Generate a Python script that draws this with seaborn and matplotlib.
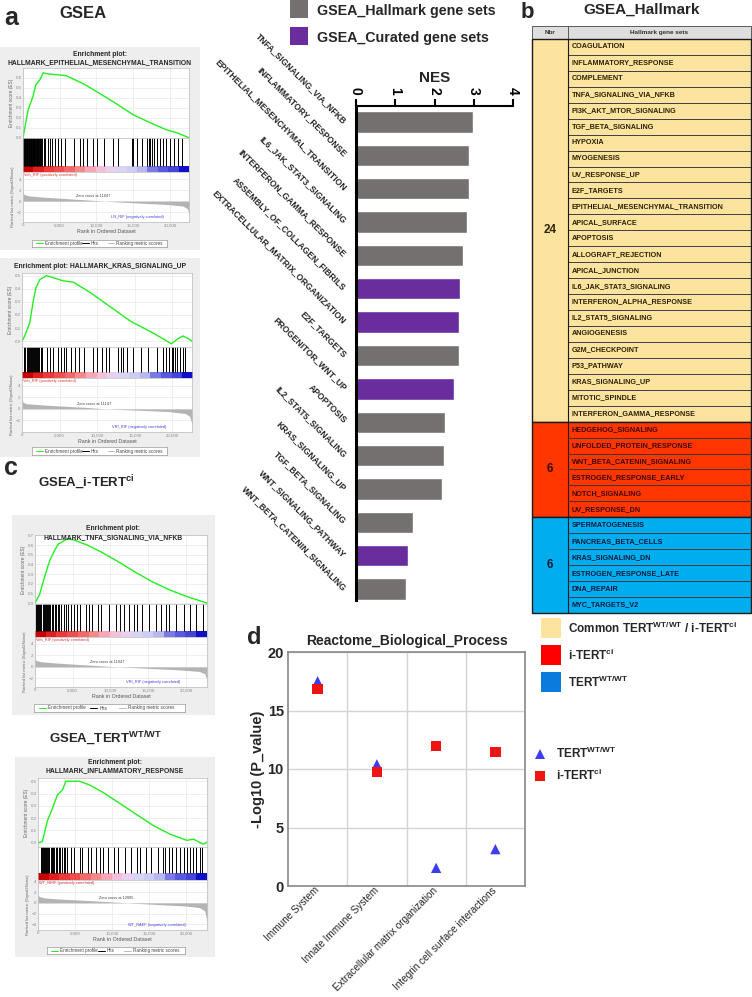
import numpy as np
import pandas as pd
import matplotlib
matplotlib.use("Agg")
import matplotlib.pyplot as plt
import seaborn as sns
from matplotlib.patches import Rectangle
from matplotlib.colors import ListedColormap

# ---------------- data ----------------
# panel a/c : GSEA enrichment plots
es1_rank = [0, 700, 1350, 1750, 2300, 2750, 3200, 5900, 8200, 10500, 12700, 15000, 17300, 19500, 20900, 22600]
es1_val = [0, 0.28, 0.41, 0.53, 0.58, 0.65, 0.64, 0.62, 0.54, 0.44, 0.34, 0.23, 0.15, 0.08, 0.05, 0.0]
hits1 = [50, 150, 250, 330, 420, 520, 600, 700, 780, 850, 950, 1050, 1150, 1250, 1320, 1400, 1480, 1560,
         1650, 1750, 1850, 1950, 2050, 2150, 2250, 2350, 2500, 2650, 2800, 2950, 3400, 3650, 4000, 4300,
         4800, 5200, 5700, 6900, 7800, 8200, 8700, 9500, 10100, 11000, 12200, 13000, 14800, 15000, 15500,
         16200, 16900, 17100, 17300, 17600, 17800, 18200, 18600, 19100, 19500, 20000, 20500, 21100, 21600]
m1_rank = [0, 150, 800, 2500, 6000, 11047, 15000, 19500, 21800, 22400, 22600]
m1_val = [1.6, 1.2, 0.95, 0.75, 0.45, 0, -0.3, -0.6, -0.9, -1.4, -2.4]

es2_rank = [0, 360, 1030, 1480, 1840, 2370, 3270, 5500, 6850, 9100, 11800, 14500, 17200, 19000, 19850,
            20750, 21400, 22100, 22600]
es2_val = [0, 0.04, 0.14, 0.30, 0.405, 0.47, 0.50, 0.46, 0.45, 0.37, 0.26, 0.15, 0.07, 0.01, -0.02,
           0.02, 0.04, 0.02, 0.0]
hits2 = [300, 450, 600, 750, 900, 1000, 1150, 1300, 1400, 1550, 1700, 1850, 2000, 2150, 2300, 2500, 2700,
         3300, 3700, 4100, 4800, 5200, 5600, 5900, 6500, 7000, 7600, 8300, 9500, 10000, 10700, 11200, 11600,
         12700, 13100, 13400, 14000, 14700, 15800, 16800, 17900, 18800, 19200, 19600, 19900, 20100, 20300,
         20600, 21000, 21400, 21700]
m2_rank = [0, 200, 600, 3700, 8000, 11147, 15000, 19400, 21700, 22300, 22600]
m2_val = [1.5, 1.1, 0.9, 0.6, 0.3, 0, -0.2, -0.45, -0.8, -1.3, -2.6]

es3_rank = [0, 590, 1270, 1950, 2630, 3080, 3540, 4220, 5120, 6940, 8750, 11000, 13290, 15560, 17820,
            20090, 21450, 22800]
es3_val = [0, 0.085, 0.27, 0.44, 0.55, 0.61, 0.63, 0.665, 0.655, 0.60, 0.53, 0.43, 0.32, 0.22, 0.137,
           0.068, 0.034, 0.0]
hits3 = [100, 250, 400, 550, 700, 850, 1000, 1150, 1300, 1450, 1600, 1750, 1900, 2050, 2200, 2400, 2600,
         2800, 3000, 3200, 3500, 3800, 4100, 4400, 4800, 5200, 5600, 6000, 6700, 7200, 7600, 8300, 8800,
         9800, 10700, 11300, 11800, 12500, 13100, 13500, 14200, 15100, 16000, 16700, 17400, 17800, 18700,
         19800, 20500, 21400, 22300]
m3_rank = [0, 150, 800, 2500, 6000, 11047, 15000, 19500, 21800, 22500, 22800]
m3_val = [1.5, 1.1, 0.9, 0.7, 0.4, 0, -0.25, -0.55, -0.8, -1.2, -2.3]

es4_rank = [0, 590, 1270, 1950, 2630, 3310, 3760, 5120, 5580, 6940, 8750, 11020, 13290, 15550, 17820,
            20090, 21000, 21900, 22360, 22800]
es4_val = [0, 0.01, 0.18, 0.28, 0.39, 0.43, 0.50, 0.50, 0.50, 0.47, 0.41, 0.32, 0.23, 0.14, 0.07,
           0.02, 0.03, 0.0, -0.01, 0.005]
hits4 = [350, 500, 650, 800, 950, 1100, 1250, 1400, 1550, 1700, 1850, 2000, 2200, 2400, 2600, 2800, 3000,
         3200, 3450, 3700, 3950, 4400, 4900, 5600, 6000, 6700, 7200, 7800, 8300, 8800, 9500, 10300, 10800,
         11800, 12500, 13300, 13700, 14600, 15300, 16200, 16800, 17200, 17700, 18100, 18600, 19200, 19700,
         20100, 20500, 20900, 21300, 21800, 22100]
m4_rank = [0, 150, 800, 2500, 6000, 12085, 16000, 20000, 21800, 22500, 22800]
m4_val = [1.6, 1.2, 0.95, 0.75, 0.5, 0, -0.3, -0.6, -0.9, -1.5, -3.6]

heat_colors = ['#c80000', '#e02020', '#ea3a3a', '#ee5050', '#f06a6a', '#f28a8a', '#f4a8b8', '#f4c0d8',
               '#e8d0ee', '#d8d4f4', '#ccccf4', '#b8b8f0', '#7a7ae6', '#5a5ade', '#4646d6', '#1010c8']

# NES bar chart
nes_sets = ['TNFA_SIGNALING_VIA_NFKB', 'INFLAMMATORY_RESPONSE', 'EPITHELIAL_MESENCHYMAL_TRANSITION',
            'IL6_JAK_STAT3_SIGNALING', 'INTERFERON_GAMMA_RESPONSE', 'ASSEMBLY_OF_COLLAGEN_FIBRILS',
            'EXTRACELLULAR_MATRIX_ORGANIZATION', 'E2F_TARGETS', 'PROGENITOR_WNT_UP', 'APOPTOSIS',
            'IL2_STAT5_SIGNALING', 'KRAS_SIGNALING_UP', 'TGF_BETA_SIGNALING', 'WNT_SIGNALING_PATHWAY',
            'WNT_BETA_CATENIN_SIGNALING']
nes_values = [2.99, 2.89, 2.88, 2.82, 2.73, 2.65, 2.62, 2.62, 2.50, 2.28, 2.24, 2.20, 1.46, 1.32, 1.28]
nes_source = ['GSEA_Hallmark gene sets'] * 5 + ['GSEA_Curated gene sets'] * 2 + ['GSEA_Hallmark gene sets'] \
    + ['GSEA_Curated gene sets'] + ['GSEA_Hallmark gene sets'] * 4 + ['GSEA_Curated gene sets'] \
    + ['GSEA_Hallmark gene sets']
nes_palette = {'GSEA_Hallmark gene sets': '#747070', 'GSEA_Curated gene sets': '#6a2d9e'}

# panel b table
common_sets = ['COAGULATION', 'INFLAMMATORY_RESPONSE', 'COMPLEMENT', 'TNFA_SIGNALING_VIA_NFKB',
               'PI3K_AKT_MTOR_SIGNALING', 'TGF_BETA_SIGNALING', 'HYPOXIA', 'MYOGENESIS', 'UV_RESPONSE_UP',
               'E2F_TARGETS', 'EPITHELIAL_MESENCHYMAL_TRANSITION', 'APICAL_SURFACE', 'APOPTOSIS',
               'ALLOGRAFT_REJECTION', 'APICAL_JUNCTION', 'IL6_JAK_STAT3_SIGNALING', 'INTERFERON_ALPHA_RESPONSE',
               'IL2_STAT5_SIGNALING', 'ANGIOGENESIS', 'G2M_CHECKPOINT', 'P53_PATHWAY', 'KRAS_SIGNALING_UP',
               'MITOTIC_SPINDLE', 'INTERFERON_GAMMA_RESPONSE']
ici_sets = ['HEDGEHOG_SIGNALING', 'UNFOLDED_PROTEIN_RESPONSE', 'WNT_BETA_CATENIN_SIGNALING',
            'ESTROGEN_RESPONSE_EARLY', 'NOTCH_SIGNALING', 'UV_RESPONSE_DN']
wt_sets = ['SPERMATOGENESIS', 'PANCREAS_BETA_CELLS', 'KRAS_SIGNALING_DN', 'ESTROGEN_RESPONSE_LATE',
           'DNA_REPAIR', 'MYC_TARGETS_V2']
group_colors = ['#fde3a0', '#ff3600', '#00aeef']
group_text = ['#2b2200', '#3a0a00', '#0a1a3a']

# panel d
reactome_terms = ['Immune System', 'Innate Immune System', 'Extracellular matrix organization',
                  'Integrin cell surface interactions']
wt_logp = [17.5, 10.4, 1.55, 3.15]
ici_logp = [16.85, 9.75, 11.95, 11.45]
WT = r'TERT$^{\mathbf{WT/WT}}$'
ICI = r'i-TERT$^{\mathbf{ci}}$'

# ---------------- figure ----------------
sns.set_theme(style='white')
plt.rcParams['font.family'] = ['Liberation Sans', 'DejaVu Sans']
plt.rcParams['mathtext.fontset'] = 'custom'
plt.rcParams['mathtext.rm'] = 'Liberation Sans'
plt.rcParams['mathtext.bf'] = 'Liberation Sans:bold'

W, H = 752, 997
fig = plt.figure(figsize=(W / 100, H / 100), dpi=100)


def px_axes(l, t, r, b):
    return fig.add_axes([l / W, 1 - b / H, (r - l) / W, (b - t) / H])


def px_text(x, y, s, **kw):
    fig.text(x / W, 1 - y / H, s, **kw)


def px_rect(l, t, r, b, **kw):
    fig.add_artist(Rectangle((l / W, 1 - b / H), (r - l) / W, (b - t) / H,
                             transform=fig.transFigure, **kw))


def small_axes_style(ax):
    ax.set_facecolor('white')
    for s in ax.spines.values():
        s.set_color('#bbbbbb')
        s.set_linewidth(0.5)
    ax.tick_params(length=0, labelsize=3.2, labelcolor='#888888', pad=1)
    ax.grid(True, color='#e4e4e4', lw=0.4)


def draw_gsea(lay, title, es_rank, es_val, hits, m_rank, m_val, texts):
    l, r = lay['x']
    t_es, b_es, b_hit, b_bar, b_m = lay['y']
    n_rank = lay['n']
    px_rect(*lay['bg'], fc='#eeeeee', ec='none', zorder=-1)
    for line, ty in zip(title, lay['title_y']):
        px_text((lay['bg'][0] + lay['bg'][2]) / 2, ty, line, ha='center', va='center',
                fontsize=4.9, fontweight='bold')

    ax = px_axes(l, t_es, r, b_es)
    sns.lineplot(x=es_rank, y=es_val, ax=ax, color='#22ee22', lw=1.0)
    ax.set_xlim(0, n_rank)
    ax.set_ylim(*lay['es_lim'])
    ax.set_yticks(lay['es_ticks'])
    ax.set_yticklabels([f'{v:.1f}' for v in lay['es_ticks']])
    ax.set_xticks([0, 5000, 10000, 15000, 20000])
    ax.set_xticklabels([])
    small_axes_style(ax)
    ax.set_ylabel('Enrichment score (ES)', fontsize=3.4, color='#666666', labelpad=1)
    ax.set_xlabel('')

    hx = px_axes(l, b_es, r, b_bar)
    f = (b_bar - b_hit) / (b_bar - b_es)
    hx.vlines(hits, f, 1, color='black', lw=0.7)
    hx.imshow([np.arange(len(heat_colors))], cmap=ListedColormap(heat_colors), aspect='auto',
              extent=(0, n_rank, 0, f))
    hx.set_xlim(0, n_rank)
    hx.set_ylim(0, 1)
    hx.set_xticks([])
    hx.set_yticks([])
    for s in hx.spines.values():
        s.set_color('#bbbbbb')
        s.set_linewidth(0.5)

    mx = px_axes(l, b_bar, r, b_m)
    mx.fill_between(m_rank, m_val, 0, color='#b4b4b4', lw=0)
    mx.set_xlim(0, n_rank)
    mx.set_ylim(*lay['m_lim'])
    mx.set_yticks(lay['m_ticks'])
    mx.set_xticks([0, 5000, 10000, 15000, 20000])
    mx.set_xticklabels(['0', '5,000', '10,000', '15,000', '20,000'])
    small_axes_style(mx)
    mx.set_xlabel('Rank in Ordered Dataset', fontsize=3.8, color='#555555', labelpad=1)
    mx.set_ylabel('Ranked list metric (Signal2Noise)', fontsize=3.0, color='#666666', labelpad=1)
    mx.text(0.005, 0.98, texts[0], transform=mx.transAxes, ha='left', va='top', fontsize=2.8, color='#e03030')
    mx.text(texts[3] - 1500, 0.5, texts[1], ha='center', va='bottom', fontsize=2.8, color='#444444')
    mx.text(0.53, 0.06, texts[2], transform=mx.transAxes, ha='left', va='bottom', fontsize=2.8, color='#4040e0')

    lx = px_axes(*lay['leg'])
    lx.set_xlim(0, 1)
    lx.set_ylim(0, 1)
    lx.set_xticks([])
    lx.set_yticks([])
    for s in lx.spines.values():
        s.set_color('#999999')
        s.set_linewidth(0.5)
    for x0, c, lab in [(0.03, '#22ee22', 'Enrichment profile'), (0.37, 'black', 'Hits'),
                       (0.56, '#bbbbbb', 'Ranking metric scores')]:
        lx.plot([x0, x0 + 0.05], [0.5, 0.5], color=c, lw=0.7)
        lx.text(x0 + 0.065, 0.5, lab, va='center', fontsize=3.3, color='#444444')


layouts = [
    dict(x=(23, 189), y=(68, 138, 166, 172, 222), bg=(0, 47, 200, 250), title_y=[54, 63], n=22600,
         es_lim=(-0.003, 0.697), es_ticks=[0, 0.1, 0.2, 0.3, 0.4, 0.5, 0.6], m_lim=(-3.8, 5.3),
         m_ticks=[4, 2, 0, -2], leg=(32, 240, 167, 247)),
    dict(x=(22, 192), y=(273, 347, 372, 378, 432), bg=(0, 258, 200, 457), title_y=[266], n=22600,
         es_lim=(-0.044, 0.52), es_ticks=[0, 0.1, 0.2, 0.3, 0.4, 0.5], m_lim=(-4.0, 5.35),
         m_ticks=[4, 2, 0, -2], leg=(32, 447, 167, 455)),
    dict(x=(35, 207), y=(535, 604, 631, 637, 687), bg=(12, 515, 215, 715), title_y=[528, 538], n=22800,
         es_lim=(-0.01, 0.705), es_ticks=[0, 0.1, 0.2, 0.3, 0.4, 0.5, 0.6, 0.7], m_lim=(-3.5, 5.2),
         m_ticks=[4, 2, 0, -2], leg=(34, 704, 185, 712)),
    dict(x=(38, 207), y=(778, 847, 873, 880, 930), bg=(15, 757, 215, 957), title_y=[762, 771], n=22800,
         es_lim=(-0.034, 0.526), es_ticks=[0, 0.1, 0.2, 0.3, 0.4, 0.5], m_lim=(-5.1, 4.3),
         m_ticks=[4, 2, 0, -2, -4], leg=(47, 947, 185, 954)),
]

draw_gsea(layouts[0], ['Enrichment plot:', 'HALLMARK_EPITHELIAL_MESENCHYMAL_TRANSITION'],
          es1_rank, es1_val, hits1, m1_rank, m1_val,
          ['Veh_RIF (positively correlated)', 'Zero cross at 11047', 'LN_RIF (negatively correlated)', 11047])
draw_gsea(layouts[1], ['Enrichment plot: HALLMARK_KRAS_SIGNALING_UP'],
          es2_rank, es2_val, hits2, m2_rank, m2_val,
          ['Veh_RIF (positively correlated)', 'Zero cross at 11147', 'VRI_RIF (negatively correlated)', 11147])
draw_gsea(layouts[2], ['Enrichment plot:', 'HALLMARK_TNFA_SIGNALING_VIA_NFKB'],
          es3_rank, es3_val, hits3, m3_rank, m3_val,
          ['Veh_RIF (positively correlated)', 'Zero cross at 11047', 'VRI_RIF (negatively correlated)', 11047])
draw_gsea(layouts[3], ['Enrichment plot:', 'HALLMARK_INFLAMMATORY_RESPONSE'],
          es4_rank, es4_val, hits4, m4_rank, m4_val,
          ['WT_NRIF (positively correlated)', 'Zero cross at 12085', 'WT_RAEF (negatively correlated)', 12085])

# panel letters / headings
px_text(4, 18, 'a', fontsize=18, fontweight='bold', va='center')
px_text(83, 14, 'GSEA', fontsize=12, fontweight='bold', va='center', ha='center')
px_text(4, 468, 'c', fontsize=18, fontweight='bold', va='center')
px_text(86, 483, 'GSEA_' + ICI, fontsize=9.5, fontweight='bold', va='center', ha='center')
px_text(106, 739, 'GSEA_' + WT, fontsize=9.5, fontweight='bold', va='center', ha='center')
px_text(521, 12, 'b', fontsize=16, fontweight='bold', va='center')
px_text(642, 10, 'GSEA_Hallmark', fontsize=11, fontweight='bold', va='center', ha='center')
px_text(247, 638, 'd', fontsize=17, fontweight='bold', va='center')

# ---------------- NES bar chart ----------------
df_nes = pd.DataFrame({'set': nes_sets, 'NES': nes_values, 'source': nes_source})
bx = px_axes(356, 106, 513, 600)
sns.barplot(data=df_nes, x='NES', y='set', hue='source', palette=nes_palette, dodge=False,
            width=0.64, saturation=1, legend=False, ax=bx)
bx.set_xlim(0, 4)
bx.set_ylim(14.33, -0.48)
bx.xaxis.tick_top()
bx.xaxis.set_label_position('top')
bx.set_xticks(range(5))
bx.set_xticklabels([str(v) for v in range(5)], rotation=-90, fontsize=10, fontweight='bold')
bx.set_xlabel('NES', fontsize=11, fontweight='bold', labelpad=4)
bx.set_ylabel('')
bx.set_yticks(range(len(nes_sets)))
bx.set_yticklabels(nes_sets, rotation=-45, ha='right', va='center', rotation_mode='anchor',
                   fontsize=6.2, fontweight='bold')
bx.tick_params(axis='x', direction='out', length=5, width=1.5, pad=3, top=True, colors='black')
bx.tick_params(axis='y', length=0, pad=8)
bx.spines['bottom'].set_visible(False)
bx.spines['right'].set_visible(False)
bx.spines['top'].set_linewidth(1.5)
bx.spines['left'].set_linewidth(2.2)
for s in ('top', 'left'):
    bx.spines[s].set_color('black')

for k, (src, col) in enumerate(nes_palette.items()):
    px_rect(290, 27 * k, 308, 27 * k + 18, fc=col, ec='none')
    px_text(317, 27 * k + 11, src, fontsize=10.3, fontweight='bold', va='center')

# ---------------- table (panel b) ----------------
groups = [common_sets, ici_sets, wt_sets]
hdr = 0.815
n_rows = sum(len(g) for g in groups)
div = 0.164
tx = px_axes(532, 26, 751, 613)
tx.set_xlim(0, 1)
tx.set_ylim(n_rows, -hdr)
tx.axis('off')
tx.add_patch(Rectangle((0, -hdr), 1, hdr, fc='#dedede', ec='#444444', lw=0.6, clip_on=False))
tx.plot([div, div], [-hdr, 0], color='#444444', lw=0.6, clip_on=False)
tx.text(div / 2, -hdr / 2, 'Nbr', ha='center', va='center', fontsize=4.6, fontweight='bold', color='#333333')
tx.text((div + 1) / 2, -hdr / 2, 'Hallmark gene sets', ha='center', va='center', fontsize=4.6,
        fontweight='bold', color='#333333')
row = 0
for sets, col, tcol in zip(groups, group_colors, group_text):
    tx.add_patch(Rectangle((0, row), 1, len(sets), fc=col, ec='none', clip_on=False))
    for k, name in enumerate(sets):
        tx.add_patch(Rectangle((div, row + k), 1 - div, 1, fc='none', ec='#333333', lw=0.5, clip_on=False))
        tx.text(div + 0.018, row + k + 0.5, name, ha='left', va='center', fontsize=5.2,
                fontweight='bold', color=tcol)
    tx.add_patch(Rectangle((0, row), 1, len(sets), fc='none', ec='#1a1a1a', lw=1.0, clip_on=False))
    tx.plot([div, div], [row, row + len(sets)], color='#1a1a1a', lw=0.8, clip_on=False)
    tx.text(div / 2, row + len(sets) / 2, str(len(sets)), ha='center', va='center', fontsize=8.5,
            fontweight='bold', color=tcol)
    row += len(sets)

# ---------------- panel d ----------------
df_d = pd.DataFrame({'process': reactome_terms * 2, 'logp': wt_logp + ici_logp,
                     'group': [WT] * len(wt_logp) + [ICI] * len(ici_logp)})
dx = px_axes(288, 652, 525, 886)
sns.scatterplot(data=df_d, x='process', y='logp', hue='group', style='group',
                markers={WT: '^', ICI: 's'}, palette={WT: '#3c3cf0', ICI: '#ee1414'},
                s=55, linewidth=0, ax=dx)
dx.set_xlim(-0.5, 3.5)
dx.set_ylim(0, 20)
dx.set_yticks([0, 5, 10, 15, 20])
dx.set_yticklabels(['0', '5', '10', '15', '20'], fontsize=10.5, fontweight='bold')
dx.set_xticks(range(len(reactome_terms)))
dx.set_xticklabels(reactome_terms, rotation=45, ha='right', va='center', rotation_mode='anchor', fontsize=7.2)
dx.set_xticks([0.5, 1.5, 2.5], minor=True)
dx.grid(which='minor', axis='x', color='#d4d4d4', lw=1.0)
dx.grid(which='major', axis='y', color='#d4d4d4', lw=1.0)
dx.grid(which='major', axis='x', visible=False)
dx.tick_params(which='both', length=0)
dx.tick_params(axis='y', pad=3)
dx.tick_params(axis='x', pad=2)
dx.set_xlabel('')
dx.set_ylabel('-Log10 (P_value)', fontsize=10.5, fontweight='bold', labelpad=2)
for s in dx.spines.values():
    s.set_color('#888888')
    s.set_linewidth(1.2)
px_text(407, 641, 'Reactome_Biological_Process', fontsize=10, fontweight='bold', ha='center', va='center')
sns.move_legend(dx, loc='center left', bbox_to_anchor=(0.97, 0.52), title=None, frameon=False,
                fontsize=8.5, handletextpad=0.3, labelspacing=0.6, markerscale=1.0)
for t in dx.get_legend().get_texts():
    t.set_fontweight('bold')

legend_labels = ['Common ' + WT + ' / ' + ICI, ICI, WT]
legend_fill = [group_colors[0], '#ff0000', '#0b7bdc']
for k, (lab, col) in enumerate(zip(legend_labels, legend_fill)):
    top = 618 + 27 * k
    px_rect(541, top, 561, top + 20, fc=col, ec='none')
    px_text(568, top + 10, lab, fontsize=8.5, fontweight='bold', va='center')

fig.savefig('out.png', dpi=100)
